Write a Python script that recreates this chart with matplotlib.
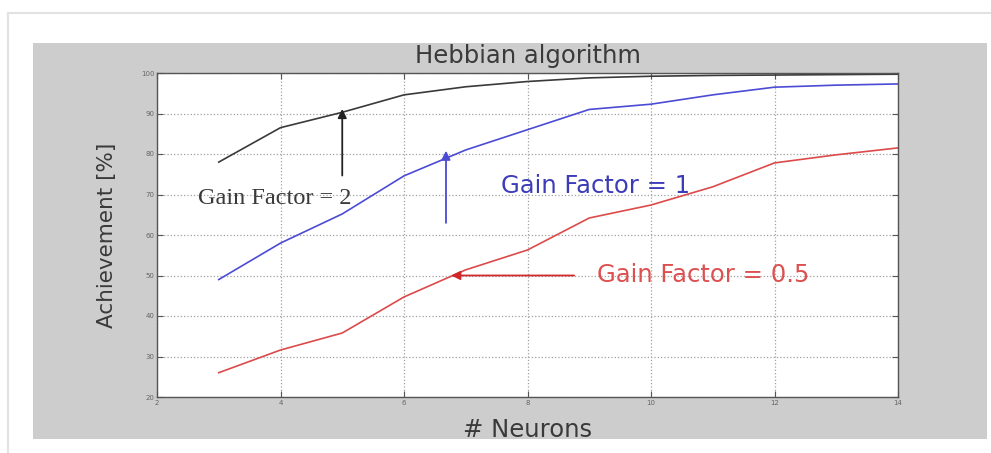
import numpy as np
import matplotlib.pyplot as plt
from matplotlib.patches import Rectangle
from matplotlib.lines import Line2D

# Data
neurons = [3, 4, 5, 6, 7, 8, 9, 10, 11, 12, 13, 14]
gain_2 = [78, 86.5, 90.3, 94.6, 96.6, 97.9, 98.8, 99.2, 99.4, 99.5, 99.6, 99.7]
gain_1 = [49, 58, 65.2, 74.6, 81, 86, 91, 92.3, 94.6, 96.5, 97, 97.3]
gain_05 = [26, 31.6, 35.8, 44.7, 51.4, 56.3, 64.2, 67.4, 71.9, 77.8, 79.8, 81.5]

xticks = [2, 4, 6, 8, 10, 12, 14]
yticks = [20, 30, 40, 50, 60, 70, 80, 90, 100]

fig = plt.figure(figsize=(9.91, 4.53), dpi=100)
fig.patch.set_facecolor('white')

# faint outer frame and the grey MATLAB panel
fig.add_artist(Line2D([8/991, 1], [1 - 13/453, 1 - 13/453], color='#e2e2e2', lw=1.5))
fig.add_artist(Line2D([8/991, 8/991], [0, 1 - 13/453], color='#e2e2e2', lw=1.5))
fig.add_artist(Rectangle((33/991, 14/453), 954/991, 396/453, facecolor='#cdcdcd',
                         edgecolor='none', zorder=0))

ax = fig.add_axes([157/991, 56/453, 741/991, 324/453])
ax.set_facecolor('white')

ax.plot(neurons, gain_2, color='#3a3a3a', lw=1.2)
ax.plot(neurons, gain_1, color='#4b4bd6', lw=1.2)
ax.plot(neurons, gain_05, color='#dc4a4a', lw=1.2)

ax.set_xlim(2, 14)
ax.set_ylim(20, 100)
ax.set_xticks(xticks)
ax.set_yticks(yticks)
ax.tick_params(direction='in', length=4, width=0.8, labelsize=5, labelcolor='#666666',
               colors='#555555', top=True, right=True, pad=2)
ax.grid(True, linestyle=':', color='#a0a0a0', lw=0.9)
for s in ax.spines.values():
    s.set_color('#555555')
    s.set_linewidth(1.0)

ax.set_title('Hebbian algorithm', fontsize=17.5, color='#3a3a3a', pad=7)
ax.set_xlabel('# Neurons', fontsize=17.5, color='#3a3a3a', labelpad=9)
ax.set_ylabel('Achievement [%]', fontsize=15.5, color='#3a3a3a', labelpad=17)

# annotations
ax.annotate('', xy=(5, 91.8), xytext=(5, 74),
            arrowprops=dict(arrowstyle='-|>', color='#222222', lw=1.3, mutation_scale=13))
ax.text(2.67, 69, 'Gain Factor = 2', family='Liberation Serif', fontsize=17.5,
        color='#3a3a3a', va='center', ha='left')

ax.annotate('', xy=(6.68, 81.5), xytext=(6.68, 62.3),
            arrowprops=dict(arrowstyle='-|>', color='#4b4bd6', lw=1.3, mutation_scale=13))
ax.text(7.57, 72.2, 'Gain Factor = 1', fontsize=17.5, color='#3c3cb8',
        va='center', ha='left')

ax.annotate('', xy=(6.72, 50), xytext=(8.8, 50),
            arrowprops=dict(arrowstyle='-|>', color='#d02828', lw=1.3, mutation_scale=13))
ax.text(9.12, 50, 'Gain Factor = 0.5', fontsize=17.5, color='#dc5050',
        va='center', ha='left')

plt.savefig('out.png', dpi=100)
